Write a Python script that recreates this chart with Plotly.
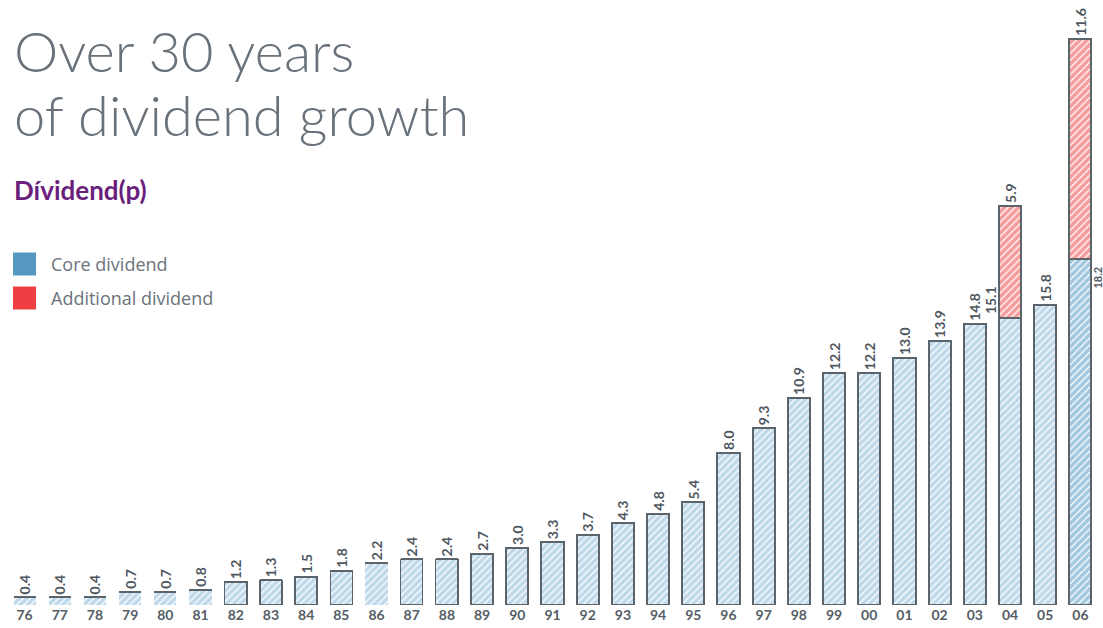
import plotly.graph_objects as go

years = ["76", "77", "78", "79", "80", "81", "82", "83", "84", "85", "86", "87", "88", "89", "90",
         "91", "92", "93", "94", "95", "96", "97", "98", "99", "00", "01", "02", "03", "04", "05", "06"]
core = [0.4, 0.4, 0.4, 0.7, 0.7, 0.8, 1.2, 1.3, 1.5, 1.8, 2.2, 2.4, 2.4, 2.7, 3.0,
        3.3, 3.7, 4.3, 4.8, 5.4, 8.0, 9.3, 10.9, 12.2, 12.2, 13.0, 13.9, 14.8, 15.1, 15.8, 18.2]
additional = [0] * 28 + [5.9, 0, 11.6]

# styles
outline_w = [0, 0, 0, 0, 0, 0, 1.5, 1.5, 1.5, 1.5, 0, 1.2, 1.2] + [2] * 18
core_fg = ["#80b4d6"] * 30 + ["#4a92bd"]
grey = "#5b636b"
label_font = dict(family="Lato", size=14, color="#4f575f", weight="bold")

core_text = [f"{v:.1f}" for v in core]
core_text[28] = ""
core_text[30] = ""
add_text = [f"{v:.1f}" if v > 0 else "" for v in additional]

fig = go.Figure()
fig.add_trace(go.Bar(
    x=years, y=core, name="Core dividend",
    marker=dict(color="white",
                pattern=dict(shape="/", fgcolor=core_fg, bgcolor="white", size=5, solidity=0.75),
                line=dict(color=grey, width=outline_w)),
    text=core_text, textposition="outside", textangle=-90, constraintext="none",
    textfont=label_font, cliponaxis=False, showlegend=False,
))
fig.add_trace(go.Bar(
    x=years, y=additional, name="Additional dividend",
    marker=dict(color="white",
                pattern=dict(shape="/", fgcolor="#ee3b37", bgcolor="white", size=5, solidity=0.75),
                line=dict(color=grey, width=2)),
    text=add_text, textposition="outside", textangle=-90, constraintext="none",
    textfont=label_font, cliponaxis=False, showlegend=False,
))

# labels for the core part of stacked bars (x given as category index)
fig.add_annotation(x=28, y=core[28], text=f"{core[28]:.1f}", textangle=-90,
                   xref="x", yref="y", showarrow=False, yanchor="bottom",
                   xshift=-20, yshift=2, font=label_font)
fig.add_annotation(x=30, y=core[30], text=f"{core[30]:.1f}", textangle=-90,
                   xref="x", yref="y", showarrow=False, yanchor="bottom", borderpad=0,
                   xshift=17, yshift=-30, font=dict(family="Lato", size=11, color="#4f575f", weight="bold"))

W_PLOT = 1091.0
H_PLOT = 595.0


def px(x):
    return (x - 7) / W_PLOT


def py(y):
    return (605 - y) / H_PLOT


title_font = dict(family="Lato", size=56, color="#69717a", weight=300)
fig.add_annotation(x=px(12), y=py(51), xref="paper", yref="paper", xanchor="left", yanchor="middle",
                   text="Over 30 years", showarrow=False, font=title_font)
fig.add_annotation(x=px(12), y=py(114), xref="paper", yref="paper", xanchor="left", yanchor="middle",
                   text="of dividend growth", showarrow=False, font=title_font)
fig.add_annotation(x=px(12), y=py(190), xref="paper", yref="paper", xanchor="left", yanchor="middle",
                   text="Dívidend(p)", showarrow=False,
                   font=dict(family="Lato", size=26, color="#6b1f7c", weight="bold"))

legend_items = [("Core dividend", "#5699c0", 264), ("Additional dividend", "#ee3f42", 298)]
for name, col, cy in legend_items:
    fig.add_shape(type="rect", xref="paper", yref="paper",
                  x0=px(13), x1=px(36), y0=py(cy - 11.5), y1=py(cy + 11.5),
                  fillcolor=col, line=dict(width=0))
    fig.add_annotation(x=px(49), y=py(cy), xref="paper", yref="paper", xanchor="left", yanchor="middle",
                       text=name, showarrow=False,
                       font=dict(family="Open Sans", size=18, color="#6b737b"))

fig.update_layout(
    barmode="stack", bargap=0.37,
    width=1103, height=628,
    margin=dict(l=7, r=5, t=10, b=23, autoexpand=False),
    paper_bgcolor="white", plot_bgcolor="white",
    xaxis=dict(type="category", automargin=False, range=[-0.5, 30.5],
               showgrid=False, showline=False, zeroline=False, ticks="",
               tickfont=dict(family="Lato", size=14, color="#555d65", weight="bold")),
    yaxis=dict(range=[0, 595 / 19.0], visible=False, showgrid=False, zeroline=False),
)

fig.write_html("out.html", config={"displayModeBar": False},
               post_script="document.body.style.margin='0px';")
